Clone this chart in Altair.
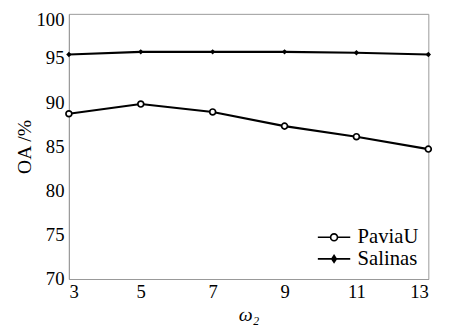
import altair as alt
import pandas as pd

omega = [3, 5, 7, 9, 11, 13]
paviau = [88.7, 89.8, 88.9, 87.3, 86.1, 84.7]
salinas = [95.4, 95.7, 95.7, 95.7, 95.6, 95.4]
series = ["PaviaU", "Salinas"]
x_ticks = [3, 5, 7, 9, 11, 13]
y_ticks = [70, 75, 80, 85, 90, 95, 100]

rows = []
for name, vals in zip(series, [paviau, salinas]):
    for x, v in zip(omega, vals):
        rows.append({"w": x, "oa": v, "series": name})
df = pd.DataFrame(rows)

FONT = "Liberation Serif"

x_enc = alt.X("w:Q", scale=alt.Scale(domain=[3, 13], nice=False),
              axis=alt.Axis(values=x_ticks, title="ω₂", titleFontStyle="italic"))
y_enc = alt.Y("oa:Q", scale=alt.Scale(domain=[70, 100], nice=False),
              axis=alt.Axis(values=y_ticks, title="OA /%",
                            labelOffset=alt.condition("datum.value == 100", alt.value(6), alt.value(0))))

base = alt.Chart(df)

lines = base.mark_line(color="black", strokeWidth=2.2).encode(
    x=x_enc, y=y_enc, detail="series:N")

pav_pts = base.transform_filter(alt.datum.series == "PaviaU").mark_point(
    shape="circle", filled=False, color="black", fill="white", fillOpacity=1,
    size=36, strokeWidth=1.7, opacity=1).encode(x=x_enc, y=y_enc)

sal_pts = base.transform_filter(alt.datum.series == "Salinas").mark_point(
    shape="diamond", filled=True, color="black", size=30, opacity=1).encode(x=x_enc, y=y_enc)

legend_paths = [
    "M-5.6,0H-3M-1.6,0H1M-1.6,0A0.7,0.7 0 1,0 -3,0A0.7,0.7 0 1,0 -1.6,0",
    "M-5.6,0H1M-2.3,-0.7L-1.85,0L-2.3,0.7L-2.75,0ZM-2.3,-0.35V0.35",
]

leg = base.transform_filter("false").mark_point(
    filled=False, color="black", opacity=1, strokeWidth=1.6).encode(
    x=x_enc, y=y_enc,
    shape=alt.Shape("series:N", scale=alt.Scale(domain=series, range=legend_paths),
                    legend=alt.Legend(title=None, orient="bottom-right", offset=10,
                                      symbolSize=100, symbolStrokeColor="black",
                                      symbolStrokeWidth=1.7, symbolOpacity=1,
                                      labelFont=FONT, labelFontSize=21, labelColor="black",
                                      rowPadding=0, labelOffset=2)),
)

chart = alt.layer(lines, pav_pts, sal_pts, leg).properties(
    width=366, height=270,
    autosize=alt.AutoSizeParams(type="none"),
    padding={"left": 62, "top": 3, "right": 18, "bottom": 52},
).configure_view(stroke="#999999", strokeWidth=1).configure_axis(
    grid=False, ticks=False, domainColor="#999999", domainWidth=1,
    labelFont=FONT, labelFontSize=19, labelColor="black", labelPadding=5,
    titleFont=FONT, titleFontSize=20, titleColor="black", titleFontWeight="normal",
).configure_axisX(titlePadding=3, labelPadding=4).configure_axisY(titlePadding=2)

chart.save("out.html", embed_options={"renderer": "svg", "actions": False})
